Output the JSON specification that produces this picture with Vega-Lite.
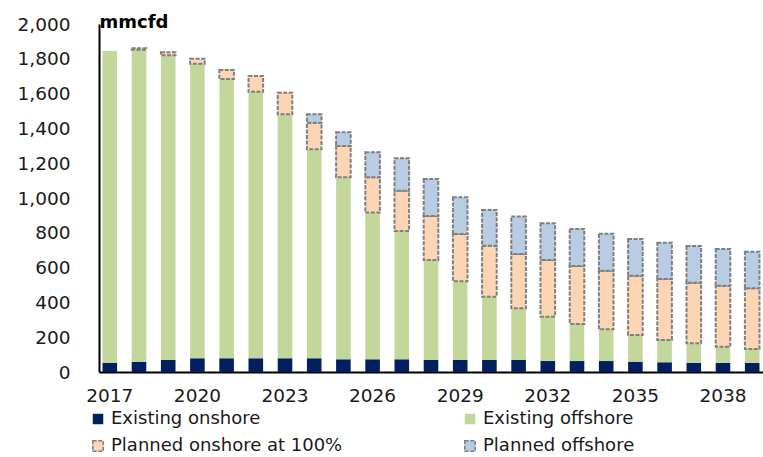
{
  "$schema": "https://vega.github.io/schema/vega-lite/v6.json",
  "autosize": {"type": "none"},
  "padding": {"left": 99, "top": 24, "right": 0, "bottom": 85},
  "width": 664,
  "height": 348,
  "background": "white",
  "config": {
    "view": {"stroke": null},
    "font": "DejaVu Sans",
    "axis": {"grid": false, "ticks": false, "domainColor": "#000000", "domainWidth": 2, "labelColor": "#1a1a1a", "labelFont": "DejaVu Sans"},
    "legend": {
      "title": null,
      "orient": "none",
      "legendX": -10,
      "legendY": 386,
      "direction": "horizontal",
      "columns": 2,
      "columnPadding": 118,
      "rowPadding": 9,
      "symbolType": "square",
      "symbolSize": 110,
      "symbolStrokeWidth": 1.5,
      "labelFontSize": 18,
      "labelOffset": 4,
      "labelLimit": 400,
      "labelColor": "#1a1a1a"
    }
  },
  "data": {
    "values": [
      {"year": "2017", "series": "Existing onshore", "k": 1, "value": 52},
      {"year": "2017", "series": "Existing offshore", "k": 2, "value": 1793},
      {"year": "2018", "series": "Existing onshore", "k": 1, "value": 59},
      {"year": "2018", "series": "Existing offshore", "k": 2, "value": 1793},
      {"year": "2018", "series": "Planned onshore at 100%", "k": 3, "value": 8},
      {"year": "2019", "series": "Existing onshore", "k": 1, "value": 69},
      {"year": "2019", "series": "Existing offshore", "k": 2, "value": 1751},
      {"year": "2019", "series": "Planned onshore at 100%", "k": 3, "value": 17},
      {"year": "2020", "series": "Existing onshore", "k": 1, "value": 79},
      {"year": "2020", "series": "Existing offshore", "k": 2, "value": 1693},
      {"year": "2020", "series": "Planned onshore at 100%", "k": 3, "value": 29},
      {"year": "2021", "series": "Existing onshore", "k": 1, "value": 79},
      {"year": "2021", "series": "Existing offshore", "k": 2, "value": 1605},
      {"year": "2021", "series": "Planned onshore at 100%", "k": 3, "value": 52},
      {"year": "2022", "series": "Existing onshore", "k": 1, "value": 79},
      {"year": "2022", "series": "Existing offshore", "k": 2, "value": 1531},
      {"year": "2022", "series": "Planned onshore at 100%", "k": 3, "value": 91},
      {"year": "2023", "series": "Existing onshore", "k": 1, "value": 79},
      {"year": "2023", "series": "Existing offshore", "k": 2, "value": 1402},
      {"year": "2023", "series": "Planned onshore at 100%", "k": 3, "value": 124},
      {"year": "2024", "series": "Existing onshore", "k": 1, "value": 79},
      {"year": "2024", "series": "Existing offshore", "k": 2, "value": 1201},
      {"year": "2024", "series": "Planned onshore at 100%", "k": 3, "value": 153},
      {"year": "2024", "series": "Planned offshore", "k": 4, "value": 48},
      {"year": "2025", "series": "Existing onshore", "k": 1, "value": 73},
      {"year": "2025", "series": "Existing offshore", "k": 2, "value": 1046},
      {"year": "2025", "series": "Planned onshore at 100%", "k": 3, "value": 180},
      {"year": "2025", "series": "Planned offshore", "k": 4, "value": 79},
      {"year": "2026", "series": "Existing onshore", "k": 1, "value": 73},
      {"year": "2026", "series": "Existing offshore", "k": 2, "value": 843},
      {"year": "2026", "series": "Planned onshore at 100%", "k": 3, "value": 203},
      {"year": "2026", "series": "Planned offshore", "k": 4, "value": 144},
      {"year": "2027", "series": "Existing onshore", "k": 1, "value": 73},
      {"year": "2027", "series": "Existing offshore", "k": 2, "value": 737},
      {"year": "2027", "series": "Planned onshore at 100%", "k": 3, "value": 232},
      {"year": "2027", "series": "Planned offshore", "k": 4, "value": 186},
      {"year": "2028", "series": "Existing onshore", "k": 1, "value": 69},
      {"year": "2028", "series": "Existing offshore", "k": 2, "value": 575},
      {"year": "2028", "series": "Planned onshore at 100%", "k": 3, "value": 253},
      {"year": "2028", "series": "Planned offshore", "k": 4, "value": 212},
      {"year": "2029", "series": "Existing onshore", "k": 1, "value": 69},
      {"year": "2029", "series": "Existing offshore", "k": 2, "value": 452},
      {"year": "2029", "series": "Planned onshore at 100%", "k": 3, "value": 272},
      {"year": "2029", "series": "Planned offshore", "k": 4, "value": 211},
      {"year": "2030", "series": "Existing onshore", "k": 1, "value": 69},
      {"year": "2030", "series": "Existing offshore", "k": 2, "value": 364},
      {"year": "2030", "series": "Planned onshore at 100%", "k": 3, "value": 293},
      {"year": "2030", "series": "Planned offshore", "k": 4, "value": 205},
      {"year": "2031", "series": "Existing onshore", "k": 1, "value": 69},
      {"year": "2031", "series": "Existing offshore", "k": 2, "value": 297},
      {"year": "2031", "series": "Planned onshore at 100%", "k": 3, "value": 312},
      {"year": "2031", "series": "Planned offshore", "k": 4, "value": 215},
      {"year": "2032", "series": "Existing onshore", "k": 1, "value": 63},
      {"year": "2032", "series": "Existing offshore", "k": 2, "value": 255},
      {"year": "2032", "series": "Planned onshore at 100%", "k": 3, "value": 326},
      {"year": "2032", "series": "Planned offshore", "k": 4, "value": 211},
      {"year": "2033", "series": "Existing onshore", "k": 1, "value": 63},
      {"year": "2033", "series": "Existing offshore", "k": 2, "value": 213},
      {"year": "2033", "series": "Planned onshore at 100%", "k": 3, "value": 333},
      {"year": "2033", "series": "Planned offshore", "k": 4, "value": 213},
      {"year": "2034", "series": "Existing onshore", "k": 1, "value": 63},
      {"year": "2034", "series": "Existing offshore", "k": 2, "value": 182},
      {"year": "2034", "series": "Planned onshore at 100%", "k": 3, "value": 337},
      {"year": "2034", "series": "Planned offshore", "k": 4, "value": 213},
      {"year": "2035", "series": "Existing onshore", "k": 1, "value": 59},
      {"year": "2035", "series": "Existing offshore", "k": 2, "value": 154},
      {"year": "2035", "series": "Planned onshore at 100%", "k": 3, "value": 340},
      {"year": "2035", "series": "Planned offshore", "k": 4, "value": 211},
      {"year": "2036", "series": "Existing onshore", "k": 1, "value": 56},
      {"year": "2036", "series": "Existing offshore", "k": 2, "value": 128},
      {"year": "2036", "series": "Planned onshore at 100%", "k": 3, "value": 350},
      {"year": "2036", "series": "Planned offshore", "k": 4, "value": 209},
      {"year": "2037", "series": "Existing onshore", "k": 1, "value": 53},
      {"year": "2037", "series": "Existing offshore", "k": 2, "value": 112},
      {"year": "2037", "series": "Planned onshore at 100%", "k": 3, "value": 348},
      {"year": "2037", "series": "Planned offshore", "k": 4, "value": 211},
      {"year": "2038", "series": "Existing onshore", "k": 1, "value": 52},
      {"year": "2038", "series": "Existing offshore", "k": 2, "value": 93},
      {"year": "2038", "series": "Planned onshore at 100%", "k": 3, "value": 351},
      {"year": "2038", "series": "Planned offshore", "k": 4, "value": 211},
      {"year": "2039", "series": "Existing onshore", "k": 1, "value": 52},
      {"year": "2039", "series": "Existing offshore", "k": 2, "value": 80},
      {"year": "2039", "series": "Planned onshore at 100%", "k": 3, "value": 349},
      {"year": "2039", "series": "Planned offshore", "k": 4, "value": 210}
    ]
  },
  "mark": {"type": "bar", "strokeWidth": 2},
  "encoding": {
    "x": {
      "field": "year",
      "type": "nominal",
      "scale": {"paddingInner": 0.5, "paddingOuter": 0.12},
      "axis": {
        "title": null,
        "labelAngle": 0,
        "values": ["2017", "2020", "2023", "2026", "2029", "2032", "2035", "2038"],
        "labelFontSize": 18.5,
        "labelPadding": 14
      }
    },
    "y": {
      "field": "value",
      "type": "quantitative",
      "stack": "zero",
      "scale": {"domain": [0, 2000], "nice": false},
      "axis": {
        "values": [0, 200, 400, 600, 800, 1000, 1200, 1400, 1600, 1800, 2000],
        "format": ",d",
        "labelFontSize": 18.5,
        "labelPadding": 29,
        "title": "mmcfd",
        "titleAngle": 0,
        "titleX": 0,
        "titleY": 3,
        "titleAlign": "left",
        "titleBaseline": "alphabetic",
        "titleFontSize": 18,
        "titleFontWeight": "bold",
        "titleColor": "#000000"
      }
    },
    "fill": {
      "field": "series",
      "type": "nominal",
      "scale": {
        "domain": ["Existing onshore", "Existing offshore", "Planned onshore at 100%", "Planned offshore"],
        "range": ["#002060", "#C4D79B", "#FCD5B4", "#B8CCE4"]
      }
    },
    "stroke": {
      "field": "series",
      "type": "nominal",
      "scale": {
        "domain": ["Existing onshore", "Existing offshore", "Planned onshore at 100%", "Planned offshore"],
        "range": ["transparent", "transparent", "#7F7F7F", "#7F7F7F"]
      }
    },
    "strokeDash": {
      "field": "series",
      "type": "nominal",
      "scale": {
        "domain": ["Existing onshore", "Existing offshore", "Planned onshore at 100%", "Planned offshore"],
        "range": [[1, 0], [1, 0], [4, 1.5], [4, 1.5]]
      }
    },
    "order": {"field": "k", "type": "quantitative", "sort": "ascending"}
  }
}
